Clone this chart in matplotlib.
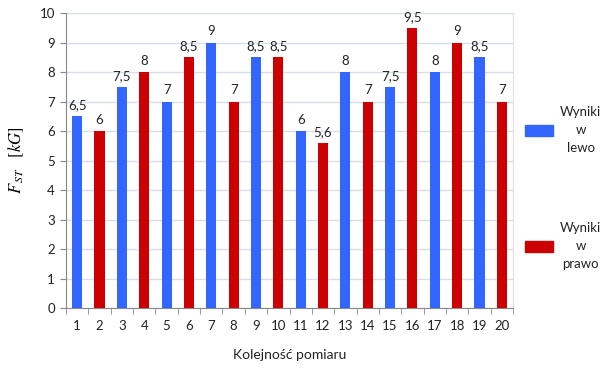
import matplotlib
matplotlib.use("Agg")
import matplotlib.pyplot as plt
from matplotlib.patches import Patch

# measurement order and values [kG]
positions = list(range(1, 21))
values = [6.5, 6, 7.5, 8, 7, 8.5, 9, 7, 8.5, 8.5, 6, 5.6, 8, 7, 7.5, 9.5, 8, 9, 8.5, 7]
series_labels = ["Wyniki\nw\nlewo", "Wyniki\nw\nprawo"]
series_colors = ["#3366FF", "#CC0000"]

plt.rcParams["font.family"] = ["Lato", "DejaVu Sans"]
plt.rcParams["mathtext.fontset"] = "stix"

W, H = 609, 368
fig = plt.figure(figsize=(W / 100, H / 100), dpi=100)
ax = fig.add_axes([66 / W, 1 - 308 / H, (513 - 66) / W, (308 - 13) / H])

colors = [series_colors[(p - 1) % 2] for p in positions]
ax.bar(positions, values, width=0.45, color=colors, zorder=3)

for p, v in zip(positions, values):
    txt = f"{v:g}".replace(".", ",")
    ax.text(p, v + 0.17, txt, ha="center", va="bottom", fontsize=9.5, color="#222222")

ax.set_xlim(0.5, 20.5)
ax.set_ylim(0, 10)
ax.set_yticks(range(0, 11))
ax.set_xticks(positions)
ax.set_xticks([p + 0.5 for p in range(0, 21)], minor=True)
ax.tick_params(axis="x", which="major", length=0, pad=9, labelsize=9.5, colors="#222222")
ax.tick_params(axis="x", which="minor", length=4, color="#888888")
ax.tick_params(axis="y", length=4, color="#888888", labelsize=9.5, colors="#222222", pad=4)
ax.yaxis.grid(True, color="#D6DEE8", linewidth=1, zorder=0)

ax.spines["top"].set_visible(False)
ax.spines["right"].set_color("#E0E0E0")
ax.spines["left"].set_color("#888888")
ax.spines["bottom"].set_color("#888888")

ax.set_ylabel(r"$F_{\,ST}\quad[kG]$", fontsize=12, labelpad=10)
fig.text(290 / W, 1 - 355 / H, "Kolejność pomiaru", ha="center", va="center",
         fontsize=10, color="#222222")

legends = []
for label, color, yc in zip(series_labels, series_colors, [130, 246]):
    leg = fig.legend([Patch(color=color)], [label], loc="center left",
                     bbox_to_anchor=(525 / W, 1 - yc / H), frameon=False,
                     borderpad=0, borderaxespad=0, handlelength=2.1,
                     handleheight=0.9, handletextpad=0.55, fontsize=9.5)
    for t in leg.get_texts():
        t.set_multialignment("center")
        t.set_linespacing(1.6)
        t.set_color("#222222")
    legends.append(leg)

fig.savefig("out.png", dpi=100)
